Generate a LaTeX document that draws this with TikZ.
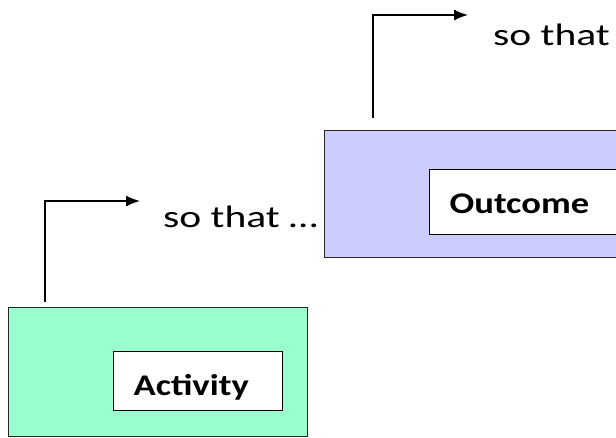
\documentclass[tikz,border=0pt]{standalone}
\usepackage{fontspec}
\usepackage{graphicx}
\setmainfont{Carlito}
\usetikzlibrary{arrows.meta}
\definecolor{actgreen}{RGB}{153,255,204}
\definecolor{outlav}{RGB}{204,204,255}
\newcommand{\widetext}[2][1.22]{\scalebox{#1}[1]{#2}}
\tikzset{
  outerbox/.style={draw=black!85, line width=1pt, anchor=north west, inner sep=0pt},
  innerbox/.style={draw, fill=white, line width=1.2pt, anchor=north west,
    inner xsep=20pt, inner ysep=0pt, align=left, text height=44pt,
    font=\bfseries\fontsize{30}{34}\selectfont},
  sothat/.style={anchor=base west, inner sep=0pt, font=\fontsize{31}{35}\selectfont},
  link/.style={-{Latex[length=14pt,width=11pt]}, line width=1.5pt}
}
\begin{document}
\begin{tikzpicture}[x=1pt, y=-1pt]
\useasboundingbox (0,0) rectangle (616,437);
\clip (0,0) rectangle (616,437);
% activity
\node[outerbox, fill=actgreen, minimum width=299pt, minimum height=129pt] (actbox) at (8,307) {};
\node[innerbox, text width=129pt, text depth=15pt] (actin) at (113,351) {\widetext{Activity}};
% outcome
\node[outerbox, fill=outlav, minimum width=330pt, minimum height=127pt] (outbox) at (324,130) {};
\node[innerbox, text width=200pt, text depth=21pt] (outin) at (429,169) {\widetext{Outcome}};
% so that ...
\node[sothat] (next1) at (163,227) {\widetext[1.34]{so that …}};
\node[sothat] (next2) at (493,45) {\widetext[1.34]{so that}};
\coordinate (start1) at (45,302);
\coordinate (tip1) at (140,201);
\coordinate (start2) at (373,118);
\coordinate (tip2) at (468,15);
\draw[link] (start1) |- (tip1);
\draw[link] (start2) |- (tip2);
\end{tikzpicture}
\end{document}
